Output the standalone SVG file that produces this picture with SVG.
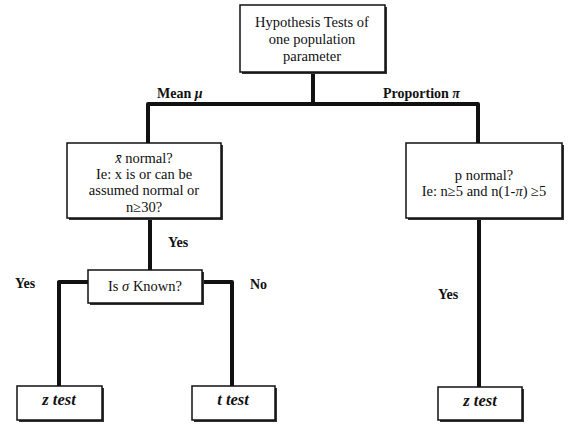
<svg xmlns="http://www.w3.org/2000/svg" width="573" height="433" viewBox="0 0 573 433">
<style>
.box{fill:#fff;stroke:#111;stroke-width:1.5}
.sh{fill:#333}
.t{font-family:"Liberation Serif","DejaVu Serif",serif;font-size:14.5px;fill:#111;text-anchor:middle}
.lbl{font-family:"Liberation Serif","DejaVu Serif",serif;font-size:14px;font-weight:bold;fill:#111}
.res{font-family:"Liberation Serif","DejaVu Serif",serif;font-size:16.5px;font-weight:bold;font-style:italic;fill:#111;text-anchor:middle}
.c{fill:none;stroke:#111;stroke-width:4;stroke-linejoin:round}
</style>
<rect width="573" height="433" fill="#fff"/>
<g id="connectors">
<path class="c" d="M313 72 V104"/>
<path class="c" d="M148 143 V104 H478 V143"/>
<path class="c" d="M150 218 V270"/>
<path class="c" d="M88 282 H59 V386"/>
<path class="c" d="M202 282 H232 V386"/>
<path class="c" d="M479 218 V387"/>
<text class="lbl" x="157" y="98">Mean <tspan font-style="italic">μ</tspan></text>
<text class="lbl" x="383" y="98">Proportion <tspan font-style="italic">π</tspan></text>
<text class="lbl" x="168" y="247">Yes</text>
<text class="lbl" x="15" y="288">Yes</text>
<text class="lbl" x="250" y="289">No</text>
<text class="lbl" x="438" y="299">Yes</text>
</g>
<g id="root">
<rect class="sh" x="242" y="7" width="145" height="67"/>
<rect class="box" x="240" y="5" width="145" height="67"/>
<text class="t" x="312" y="27">Hypothesis Tests of</text>
<text class="t" x="312" y="44">one population</text>
<text class="t" x="312" y="61">parameter</text>
</g>
<g id="mean">
<rect class="sh" x="69" y="145" width="154" height="75"/>
<rect class="box" x="67" y="143" width="154" height="75"/>
<text class="t" x="144" y="163"><tspan font-style="italic">x̄</tspan> normal?</text>
<text class="t" x="144" y="179">Ie: x is or can be</text>
<text class="t" x="144" y="195">assumed normal or</text>
<text class="t" x="144" y="212">n≥30?</text>
</g>
<g id="proportion">
<rect class="sh" x="408" y="145" width="156" height="75"/>
<rect class="box" x="406" y="143" width="156" height="75"/>
<text class="t" x="484" y="180">p normal?</text>
<text class="t" x="484" y="196">Ie: n≥5 and n(1-<tspan font-style="italic">π</tspan>) ≥5</text>
</g>
<g id="sigma">
<rect class="sh" x="90" y="272" width="114" height="33"/>
<rect class="box" x="88" y="270" width="114" height="33"/>
<text class="t" x="145" y="291">Is <tspan font-style="italic">σ</tspan> Known?</text>
</g>
<g id="ztest1">
<rect class="sh" x="19" y="388" width="85" height="34"/>
<rect class="box" x="17" y="386" width="85" height="34"/>
<text class="res" x="59" y="405">z test</text>
</g>
<g id="ttest">
<rect class="sh" x="194" y="388" width="83" height="34"/>
<rect class="box" x="192" y="386" width="83" height="34"/>
<text class="res" x="233" y="405">t test</text>
</g>
<g id="ztest2">
<rect class="sh" x="440" y="389" width="84" height="33"/>
<rect class="box" x="438" y="387" width="84" height="33"/>
<text class="res" x="480" y="406">z test</text>
</g>
</svg>
